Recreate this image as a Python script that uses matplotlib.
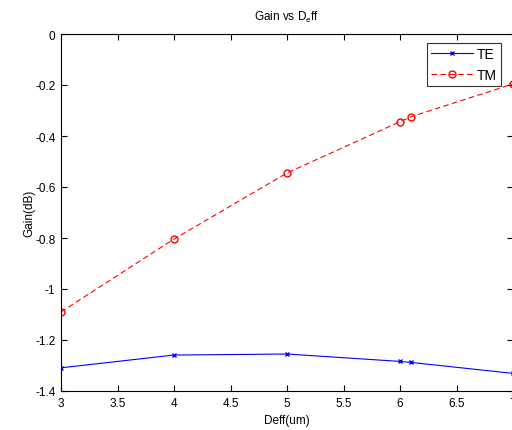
import matplotlib
matplotlib.use("Agg")
import matplotlib.pyplot as plt
from matplotlib.ticker import FuncFormatter

# values
deff = [3, 4, 5, 6, 6.1, 7]
gain_te = [-1.309, -1.259, -1.255, -1.284, -1.288, -1.331]
gain_tm = [-1.090, -0.804, -0.545, -0.344, -0.324, -0.196]

x_ticks = [3, 3.5, 4, 4.5, 5, 5.5, 6, 6.5, 7]
y_ticks = [-1.4, -1.2, -1.0, -0.8, -0.6, -0.4, -0.2, 0]

plt.rcParams["font.family"] = ["Liberation Sans", "DejaVu Sans"]
plt.rcParams["font.size"] = 8

fig = plt.figure(figsize=(5.12, 4.31), dpi=100)
ax = fig.add_axes([61 / 512, 39 / 431, 452 / 512, 357 / 431])

ax.plot(deff, gain_te, color="blue", linestyle="-", marker="x",
        markersize=3.5, linewidth=0.8, label="TE")
ax.plot(deff, gain_tm, color="red", linestyle="--", dashes=(5, 3), marker="o",
        markersize=5, markerfacecolor="none", linewidth=0.8, label="TM")

ax.set_xlim(3, 7)
ax.set_ylim(-1.4, 0)
ax.set_xticks(x_ticks)
ax.set_yticks(y_ticks)
fmt = FuncFormatter(lambda v, p: "%g" % round(v, 2))
ax.xaxis.set_major_formatter(fmt)
ax.yaxis.set_major_formatter(fmt)
ax.tick_params(direction="in", length=4, width=0.8, top=True, right=True,
               labelsize=8.5, pad=4)
for s in ax.spines.values():
    s.set_linewidth(0.8)

ax.set_title("Gain vs D$_\\mathregular{e}$ff", fontsize=8.5, pad=10.5)
ax.set_xlabel("Deff(um)", fontsize=8.5, labelpad=4)
ax.set_ylabel("Gain(dB)", fontsize=8.5, labelpad=0)

leg = ax.legend(loc="upper right", bbox_to_anchor=(440 / 452, 1 - 9 / 357),
                bbox_transform=ax.transAxes, fontsize=10, frameon=True,
                fancybox=False, edgecolor="black", borderpad=0.3,
                handlelength=3.0, handletextpad=0.3, labelspacing=0.5,
                borderaxespad=0)
leg.get_frame().set_linewidth(0.8)

fig.savefig("out.png", dpi=100)
